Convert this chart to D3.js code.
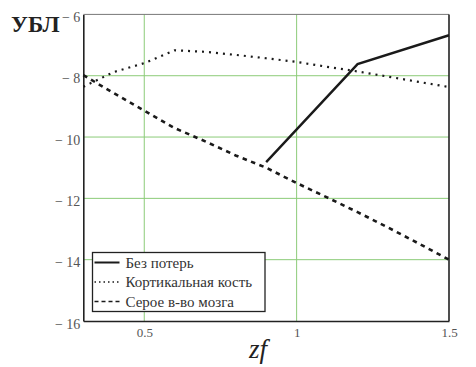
<!DOCTYPE html>
<html>
<head>
<meta charset="utf-8">
<script src="https://cdn.jsdelivr.net/npm/d3@7"></script>
</head>
<body style="margin:0">
<div id="chart"></div>
<script>
// values
const zfLoss = [0.9, 1.2, 1.5];
const noLoss = [-10.82, -7.62, -6.68];

const zfGrid = [0.3, 0.4, 0.5, 0.6, 0.7, 0.8, 0.9, 1.0, 1.1, 1.2, 1.3, 1.4, 1.5];
const cortical = [-8.36, -7.88, -7.59, -7.17, -7.22, -7.32, -7.43, -7.55, -7.71, -7.86, -8.03, -8.2, -8.37];
const greyMatter = [-7.98, -8.57, -9.14, -9.71, -10.14, -10.6, -11.0, -11.5, -11.97, -12.45, -12.95, -13.47, -14.0];

const xTicks = [0.5, 1, 1.5];
const yTicks = [-6, -8, -10, -12, -14, -16];
const seriesNames = ["Без потерь", "Кортикальная кость", "Серое в-во мозга"];

const width = 476, height = 367;
const m = { t: 14.4, r: 27, b: 46, l: 83.3 };
const FONT = "Times New Roman";

const svg = d3.select("#chart").append("svg")
  .attr("width", width)
  .attr("height", 367);

const x = d3.scaleLinear().domain([0.3, 1.5]).range([m.l, width - m.r]);
const y = d3.scaleLinear().domain([-16, -6]).range([height - m.b, m.t]);

// grid
svg.append("g")
  .selectAll("line")
  .data(xTicks.filter(d => d > 0.3 && d < 1.5))
  .join("line")
  .attr("x1", d => x(d)).attr("x2", d => x(d))
  .attr("y1", m.t).attr("y2", height - m.b)
  .attr("stroke", "#8ccb78").attr("stroke-width", 1);

svg.append("g")
  .selectAll("line")
  .data(yTicks.filter(d => d > -16 && d < -6))
  .join("line")
  .attr("x1", m.l).attr("x2", width - m.r)
  .attr("y1", d => y(d)).attr("y2", d => y(d))
  .attr("stroke", "#8ccb78").attr("stroke-width", 1);

// frame
svg.append("line")
  .attr("x1", m.l).attr("x2", width - m.r)
  .attr("y1", m.t).attr("y2", m.t)
  .attr("stroke", "#777").attr("stroke-width", 1);

const yAxis = svg.append("g")
  .attr("transform", `translate(${m.l},0)`)
  .call(d3.axisLeft(y).tickValues(yTicks).tickSize(0).tickPadding(3)
    .tickFormat(d => "\u2212 " + Math.abs(d)));
yAxis.attr("font-family", FONT).attr("font-size", 14);
yAxis.select(".domain").attr("stroke", "#222").attr("stroke-width", 1.6);
yAxis.selectAll("text")
  .attr("fill", "#555").attr("dy", "0.5em");

const xAxis = svg.append("g")
  .attr("transform", `translate(0,${height - m.b})`)
  .call(d3.axisBottom(x).tickValues(xTicks).tickSize(0).tickPadding(7)
    .tickFormat(d => String(d)));
xAxis.attr("font-family", FONT).attr("font-size", 13);
xAxis.select(".domain").attr("stroke", "#222").attr("stroke-width", 1.6);
xAxis.selectAll("text")
  .attr("fill", "#555");

svg.append("line")
  .attr("x1", width - m.r).attr("x2", width - m.r)
  .attr("y1", m.t).attr("y2", height - m.b)
  .attr("stroke", "#222").attr("stroke-width", 1.6);

// lines
const line = d3.line().x(d => x(d[0])).y(d => y(d[1]));

const series = [
  { xs: zfLoss, ys: noLoss, dash: null, w: 2.4 },
  { xs: zfGrid, ys: cortical, dash: "2,5", w: 2.2 },
  { xs: zfGrid, ys: greyMatter, dash: "4.5,4.5", w: 2.6 }
];

series.forEach(s => {
  svg.append("path")
    .datum(s.xs.map((v, i) => [v, s.ys[i]]))
    .attr("fill", "none")
    .attr("stroke", "#1a1a1a")
    .attr("stroke-width", s.w)
    .attr("stroke-dasharray", s.dash)
    .attr("d", line);
});

// legend
const lg = svg.append("g").attr("transform", "translate(92.5,252.5)");
lg.append("rect")
  .attr("width", 172.5).attr("height", 59)
  .attr("fill", "#fff").attr("stroke", "#222").attr("stroke-width", 1.3);

series.forEach((s, i) => {
  const cy = 10 + i * 19.5;
  lg.append("line")
    .attr("x1", 2).attr("x2", 27)
    .attr("y1", cy).attr("y2", cy)
    .attr("stroke", "#1a1a1a")
    .attr("stroke-width", i === 0 ? 2 : 1.6)
    .attr("stroke-dasharray", i === 1 ? "1.5,3" : i === 2 ? "4,3" : null);
  lg.append("text")
    .attr("x", 33).attr("y", cy + 5)
    .attr("font-family", FONT)
    .attr("font-size", 15)
    .attr("fill", "#333")
    .text(seriesNames[i]);
});

// titles
svg.append("text")
  .attr("x", 11).attr("y", 32)
  .attr("font-family", FONT)
  .attr("font-size", 23).attr("font-weight", "bold")
  .attr("fill", "#222")
  .text("УБЛ");

svg.append("text")
  .attr("x", 258).attr("y", 358)
  .attr("text-anchor", "middle")
  .attr("font-family", FONT)
  .attr("font-size", 27).attr("font-style", "italic")
  .attr("fill", "#222")
  .text("zf");
</script>
</body>
</html>
